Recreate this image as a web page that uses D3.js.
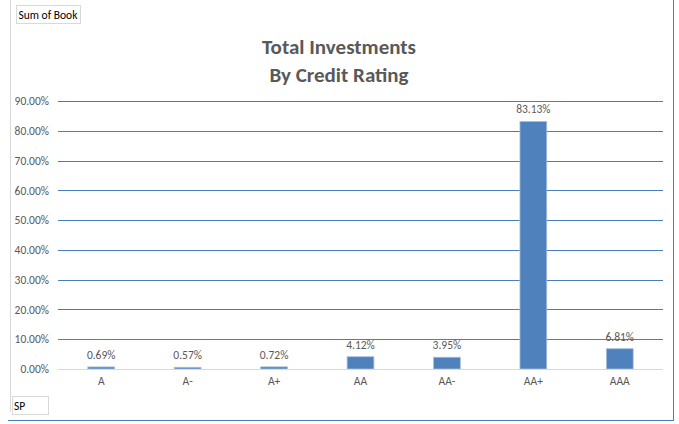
<!DOCTYPE html>
<html>
<head>
<meta charset="utf-8">
<script src="https://cdn.jsdelivr.net/npm/d3@7"></script>
<style>
  body { margin: 0; background: #fff; }
  svg { display: block; font-family: Calibri, Carlito, "Liberation Sans", "Open Sans", sans-serif; }
</style>
</head>
<body>
<svg id="chart" width="679" height="424"></svg>
<script>
var ratings = ["A", "A-", "A+", "AA", "AA-", "AA+", "AAA"];
var shares = [0.69, 0.57, 0.72, 4.12, 3.95, 83.13, 6.81];
var yTicks = [0, 10, 20, 30, 40, 50, 60, 70, 80, 90];

var svg = d3.select("#chart"),
    plotLeft = 58, plotRight = 663, plotTop = 101, plotBottom = 369,
    fontFam = "Calibri, Carlito, 'Liberation Sans', sans-serif";

// frame
svg.append("line").attr("x1", 10.5).attr("x2", 10.5).attr("y1", 0).attr("y2", 412)
  .attr("stroke", "#d9d9d9");
svg.append("line").attr("x1", 673.5).attr("x2", 673.5).attr("y1", 0).attr("y2", 420)
  .attr("stroke", "#4a7ebb");
svg.append("line").attr("x1", 8).attr("x2", 674).attr("y1", 420.5).attr("y2", 420.5)
  .attr("stroke", "#4a7ebb");

// field buttons
svg.append("rect").attr("x", 16.5).attr("y", 5.5).attr("width", 64).attr("height", 18)
  .attr("fill", "#fff").attr("stroke", "#d9d9d9");
svg.append("text").attr("x", 18.5).attr("y", 19).attr("font-size", 11.5).attr("fill", "#000")
  .text("Sum of Book");
svg.append("rect").attr("x", 12.5).attr("y", 396.5).attr("width", 36).attr("height", 18)
  .attr("fill", "#fff").attr("stroke", "#d9d9d9");
svg.append("text").attr("x", 14).attr("y", 410).attr("font-size", 11.5).attr("fill", "#000")
  .text("SP");

// title
var title = svg.append("text").attr("text-anchor", "middle").attr("fill", "#595959")
  .attr("font-size", 21).attr("font-weight", "bold");
title.append("tspan").attr("x", 339).attr("y", 54).text("Total Investments");
title.append("tspan").attr("x", 339).attr("y", 82).text("By Credit Rating");

var x = d3.scaleBand().domain(ratings).range([plotLeft, plotRight]).paddingInner(0.69).paddingOuter(0.345);
var y = d3.scaleLinear().domain([0, 90]).range([plotBottom, plotTop]);

// gridlines
svg.append("g").selectAll("line").data(yTicks.filter(d => d > 0)).enter().append("line")
  .attr("x1", plotLeft).attr("x2", plotRight)
  .attr("y1", d => Math.round(y(d)) + 0.5).attr("y2", d => Math.round(y(d)) + 0.5)
  .attr("stroke", "#4a7ebb").attr("stroke-width", 1);

// y axis labels
var yAxis = d3.axisLeft(y).tickValues(yTicks).tickSize(0).tickPadding(6)
  .tickFormat(d => d.toFixed(2) + "%");
svg.append("g").attr("transform", "translate(" + (plotLeft - 3) + ",0)").call(yAxis)
  .call(g => g.select(".domain").remove())
  .selectAll("text").attr("font-size", 11.5).attr("fill", "#595959")
  .attr("font-family", fontFam);

// bars
svg.append("g").selectAll("rect").data(shares).enter().append("rect")
  .attr("x", (d, i) => x(ratings[i]))
  .attr("y", d => y(d))
  .attr("width", x.bandwidth())
  .attr("height", d => plotBottom - y(d))
  .attr("fill", "#4f81bd").attr("stroke", "#a7bfde").attr("stroke-width", 0.8);

// baseline
svg.append("line").attr("x1", plotLeft).attr("x2", plotRight)
  .attr("y1", plotBottom + 0.5).attr("y2", plotBottom + 0.5)
  .attr("stroke", "#d9d9d9");

// data labels
svg.append("g").selectAll("text").data(shares).enter().append("text")
  .attr("x", (d, i) => x(ratings[i]) + x.bandwidth() / 2)
  .attr("y", d => y(d) - 8)
  .attr("text-anchor", "middle").attr("font-size", 11.5).attr("fill", "#595959")
  .text(d => d.toFixed(2) + "%");

// x axis labels
var xAxis = d3.axisBottom(x).tickSize(0).tickPadding(8);
svg.append("g").attr("transform", "translate(0," + plotBottom + ")").call(xAxis)
  .call(g => g.select(".domain").remove())
  .selectAll("text").attr("font-size", 11.5).attr("fill", "#595959")
  .attr("font-family", fontFam);
</script>
</body>
</html>
